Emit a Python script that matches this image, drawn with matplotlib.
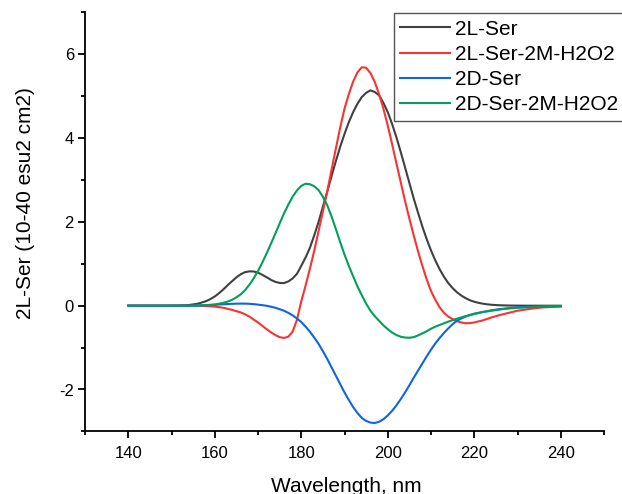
import matplotlib
matplotlib.use("Agg")
import matplotlib.pyplot as plt
from matplotlib.ticker import MultipleLocator

# CD spectra: 2 nm steps on the flat tails, 1 nm steps across the bands
wavelength = list(range(140, 158, 2)) + list(range(158, 227)) + list(range(228, 241, 2))

l_ser = [
    0, 0, 0, 0, 0, 0.001, 0.005, 0.016, 0.045,
    0.108, 0.158, 0.22, 0.30, 0.39, 0.49, 0.585, 0.675, 0.75, 0.80,
    0.82, 0.817, 0.79, 0.736, 0.68, 0.616, 0.57, 0.543, 0.54, 0.578,
    0.65, 0.76, 0.95, 1.15, 1.38, 1.68, 2.0, 2.36, 2.72, 3.09,
    3.45, 3.79, 4.1, 4.38, 4.62, 4.82, 4.98, 5.08, 5.14, 5.1,
    5.02, 4.84, 4.62, 4.34, 4.02, 3.67, 3.3, 2.93, 2.56, 2.22,
    1.89, 1.59, 1.32, 1.08, 0.87, 0.69, 0.54, 0.42, 0.32, 0.243,
    0.18, 0.13, 0.095, 0.068, 0.048, 0.033, 0.022, 0.015, 0.01,
    0.004, 0.002, 0, 0, 0, 0, 0,
]
l_ser_h2o2 = [
    0, 0, 0, 0, 0, 0, 0, 0, 0,
    -0.01, -0.015, -0.02, -0.035, -0.05, -0.075, -0.1, -0.13, -0.16, -0.205,
    -0.26, -0.33, -0.4, -0.48, -0.56, -0.635, -0.7, -0.75, -0.77, -0.74,
    -0.62, -0.34, 0.1, 0.48, 0.88, 1.31, 1.78, 2.25, 2.72, 3.24,
    3.75, 4.25, 4.7, 5.05, 5.35, 5.57, 5.69, 5.68, 5.55, 5.34,
    5.05, 4.7, 4.3, 3.86, 3.4, 2.95, 2.5, 2.08, 1.68, 1.3,
    0.95, 0.63, 0.35, 0.14, -0.04, -0.17, -0.26, -0.32, -0.37, -0.4,
    -0.42, -0.415, -0.4, -0.375, -0.35, -0.315, -0.28, -0.25, -0.22,
    -0.17, -0.12, -0.09, -0.06, -0.04, -0.03, -0.02,
]
d_ser = [
    0, 0, 0, 0, 0, 0, 0, 0, 0.005,
    0.01, 0.015, 0.02, 0.028, 0.035, 0.04, 0.045, 0.048, 0.05, 0.049,
    0.045, 0.037, 0.026, 0.013, -0.002, -0.024, -0.05, -0.083, -0.12, -0.17,
    -0.23, -0.305, -0.39, -0.5, -0.62, -0.76, -0.91, -1.085, -1.27, -1.47,
    -1.67, -1.87, -2.07, -2.25, -2.42, -2.56, -2.68, -2.75, -2.79, -2.8,
    -2.77, -2.71, -2.62, -2.51, -2.38, -2.23, -2.07, -1.9, -1.72, -1.55,
    -1.38, -1.21, -1.05, -0.9, -0.77, -0.65, -0.54, -0.44, -0.36, -0.305,
    -0.26, -0.22, -0.19, -0.17, -0.15, -0.13, -0.11, -0.095, -0.08,
    -0.06, -0.04, -0.03, -0.02, -0.015, -0.01, -0.01,
]
d_ser_h2o2 = [
    0, 0, 0, 0, 0, 0, 0, 0, 0.005,
    0.015, 0.022, 0.03, 0.047, 0.07, 0.1, 0.14, 0.2, 0.27, 0.37,
    0.5, 0.65, 0.83, 1.03, 1.25, 1.48, 1.72, 1.96, 2.2, 2.41,
    2.6, 2.75, 2.86, 2.91, 2.9, 2.85, 2.76, 2.6, 2.4, 2.13,
    1.83, 1.52, 1.22, 0.95, 0.7, 0.46, 0.25, 0.05, -0.12, -0.25,
    -0.36, -0.47, -0.56, -0.64, -0.7, -0.74, -0.76, -0.765, -0.75, -0.71,
    -0.66, -0.61, -0.55, -0.5, -0.46, -0.42, -0.38, -0.345, -0.31, -0.28,
    -0.25, -0.225, -0.2, -0.175, -0.15, -0.135, -0.12, -0.105, -0.09,
    -0.065, -0.05, -0.04, -0.03, -0.02, -0.015, -0.01,
]

series = [
    ("2L-Ser", l_ser, "#404040"),
    ("2L-Ser-2M-H2O2", l_ser_h2o2, "#fa3232"),
    ("2D-Ser", d_ser, "#0f64e6"),
    ("2D-Ser-2M-H2O2", d_ser_h2o2, "#00a05a"),
]


def main() -> None:
    plt.rcParams["font.family"] = ["Liberation Sans", "DejaVu Sans"]
    plt.rcParams["axes.unicode_minus"] = False

    fig = plt.figure(figsize=(6.22, 4.94), dpi=100)
    ax = fig.add_axes([85 / 622, 1 - 431.4 / 494, 519 / 622, 419 / 494])

    for label, values, color in series:
        ax.plot(wavelength, values, color=color, linewidth=1.5, label=label,
                solid_joinstyle="round")

    ax.set_xlim(130, 250)
    ax.set_ylim(-3, 7)

    # Origin-style axes: only left/bottom spines, ticks outward
    ax.spines["top"].set_visible(False)
    ax.spines["right"].set_visible(False)
    for side in ("left", "bottom"):
        ax.spines[side].set_linewidth(1.3)

    ax.xaxis.set_major_locator(MultipleLocator(20))
    ax.xaxis.set_minor_locator(MultipleLocator(10))
    ax.yaxis.set_major_locator(MultipleLocator(2))
    ax.yaxis.set_minor_locator(MultipleLocator(1))
    ax.tick_params(which="major", direction="out", length=5, width=1.3, labelsize=12)
    ax.tick_params(which="minor", direction="out", length=2.8, width=1.3)
    ax.tick_params(axis="x", which="major", pad=5.5)
    ax.tick_params(axis="y", which="major", pad=3)

    ax.set_xlabel("Wavelength, nm", fontsize=15, va="baseline")
    ax.xaxis.set_label_coords(0.504, -0.145)
    ax.set_ylabel("2L-Ser (10-40 esu2 cm2)", fontsize=15, va="center")
    ax.yaxis.set_label_coords(-0.1156, 0.544)

    # legend box sits in the top right and runs past the axes
    leg = fig.legend(
        loc="upper left",
        bbox_to_anchor=(394 / 622, 1 - 13.3 / 494),
        borderaxespad=0,
        fontsize=15,
        frameon=True,
        fancybox=False,
        framealpha=1,
        edgecolor="#555555",
        handlelength=2.4,
        handletextpad=0.25,
        borderpad=0.3,
        labelspacing=0.3,
    )
    leg.get_frame().set_linewidth(1.0)

    plt.savefig("out.png", dpi=100)
    plt.close()


if __name__ == "__main__":
    main()
